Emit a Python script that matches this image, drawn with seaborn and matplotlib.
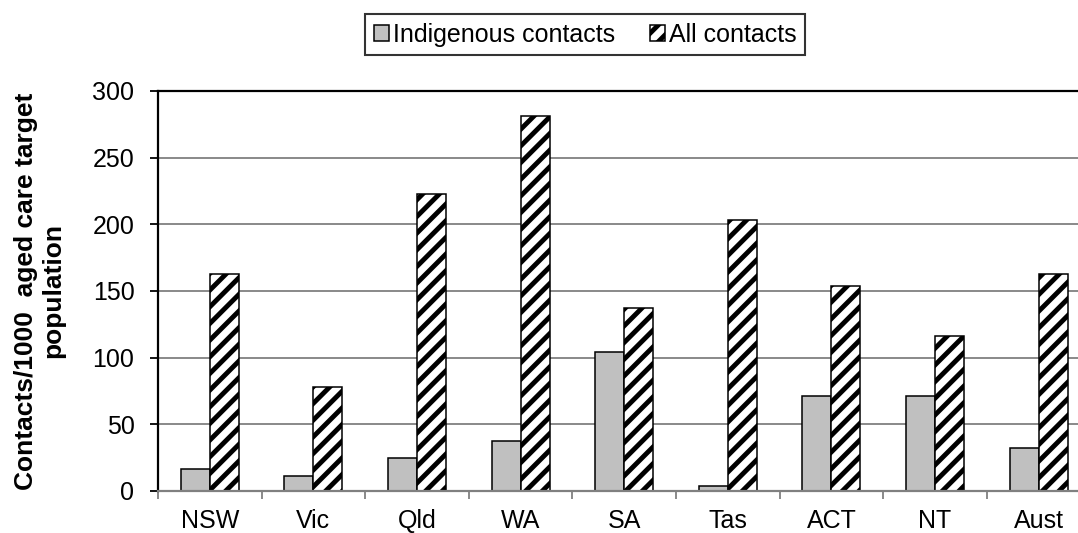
# Contacts per 1000 aged care target population, by jurisdiction
# Grouped bar chart: Indigenous contacts vs all contacts

import pandas as pd
import numpy as np
import matplotlib
matplotlib.use("Agg")
import matplotlib.pyplot as plt
import seaborn as sns

# Data

regions = ["NSW", "Vic", "Qld", "WA", "SA", "Tas", "ACT", "NT", "Aust"]
indigenous = [16.5, 11.5, 25, 37.5, 104, 4, 71.5, 71.5, 32.5]
all_contacts = [163, 78, 222.5, 281, 137, 203, 154, 116.5, 163]
series_names = ["Indigenous contacts", "All contacts"]

df = pd.DataFrame({
    "region": regions * 2,
    "value": indigenous + all_contacts,
    "type": [series_names[0]] * len(regions) + [series_names[1]] * len(regions),
})

#-----------------------STYLE----------------------------------

sns.set_style("white")
plt.rcParams["font.family"] = ["Liberation Sans", "DejaVu Sans"]
plt.rcParams["hatch.linewidth"] = 3.5
plt.rcParams["text.color"] = "black"
plt.rcParams["axes.labelcolor"] = "black"
plt.rcParams["xtick.labelcolor"] = "black"
plt.rcParams["ytick.labelcolor"] = "black"

#-----------------------PLOTTING-------------------------------

fig = plt.figure(figsize=(10.78, 5.33), dpi=100)
ax = fig.add_axes([0.1466, 0.0788, 0.865, 0.7505])

sns.barplot(data=df, x="region", y="value", hue="type", order=regions,
            hue_order=series_names, palette=["#C0C0C0", "white"],
            edgecolor="black", linewidth=1.1, width=0.56, gap=0,
            legend=False, ax=ax)

# hatch the "All contacts" bars
for bar in ax.containers[1]:
    bar.set_hatch("//")
    bar.set_facecolor("white")
    bar.set_edgecolor("black")

ax.set_ylim(0, 300)
ax.set_xlim(-0.5, len(regions) - 0.5)
ax.set_yticks(np.arange(0, 301, 50))
ax.set_xlabel("")
ax.set_ylabel("Contacts/1000  aged care target\npopulation",
              fontsize=19, fontweight="bold", multialignment="center",
              color="black")
ax.yaxis.set_label_coords(-0.099, 0.5)

# gridlines
ax.yaxis.grid(True, color="#808080", linewidth=1.3)
ax.set_axisbelow(True)

# spines
for s in ["top", "left"]:
    ax.spines[s].set_color("black")
    ax.spines[s].set_linewidth(1.6)
ax.spines["bottom"].set_color("#808080")
ax.spines["bottom"].set_linewidth(1.6)
ax.spines["right"].set_visible(False)

# ticks
ax.tick_params(axis="y", which="major", direction="out", length=6, width=1.3,
               color="black", labelcolor="black", labelsize=18, pad=11, left=True)
ax.tick_params(axis="x", which="major", length=0, labelcolor="black",
               labelsize=18, pad=13)
ax.set_xticks(np.arange(-0.5, len(regions), 1.0), minor=True)
ax.tick_params(axis="x", which="minor", direction="out", length=6, width=1.3,
               color="#808080", bottom=True)

# legend
leg = fig.legend(ax.containers, series_names, loc="upper center",
                 bbox_to_anchor=(0.543, 0.974), ncol=2, fontsize=18,
                 frameon=True, fancybox=False, edgecolor="black",
                 handlelength=0.6, handleheight=0.6, handletextpad=0.15,
                 columnspacing=1.4, borderpad=0.35, borderaxespad=0)
leg.get_frame().set_linewidth(1.5)
for t in leg.get_texts():
    t.set_color("black")

plt.savefig("out.png", dpi=100)
